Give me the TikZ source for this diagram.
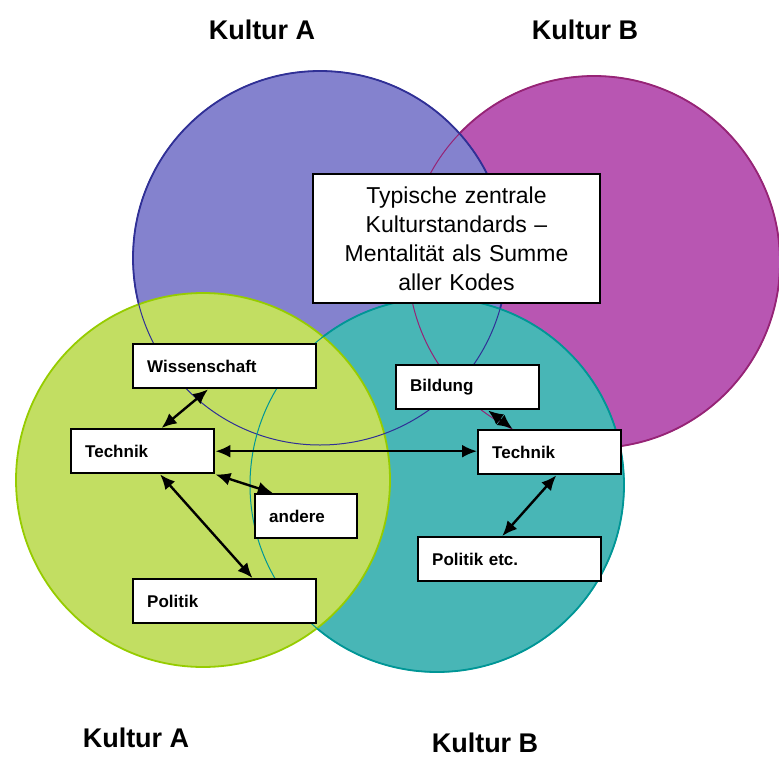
\documentclass[tikz,border=0pt]{standalone}
\usepackage{fontspec}
\setmainfont{Liberation Sans}
\usetikzlibrary{arrows.meta,calc}
\definecolor{kultAfill}{RGB}{132,130,206}
\definecolor{kultAline}{RGB}{48,48,150}
\definecolor{kultBfill}{RGB}{184,86,178}
\definecolor{kultBline}{RGB}{150,36,118}
\definecolor{subAfill}{RGB}{194,222,98}
\definecolor{subAline}{RGB}{150,204,0}
\definecolor{subBfill}{RGB}{72,182,182}
\definecolor{subBline}{RGB}{0,150,150}
\begin{document}
\begin{tikzpicture}
[x=1pt, y=-1pt, line width=1.8pt,
box/.style={rectangle, draw=black, fill=white, line width=2.4pt, inner xsep=14pt, inner ysep=0pt, minimum height=44pt, text width=#1, align=left, anchor=north west, font=\fontsize{17}{20}\selectfont\bfseries},
centerbox/.style={rectangle, draw=black, fill=white, line width=2.4pt, minimum width=287pt, minimum height=129pt, text width=270pt, align=center, font=\fontsize{23}{29}\selectfont},
link/.style={{Latex[length=15pt,width=13pt]}-{Latex[length=15pt,width=13pt]}, line width=2.4pt},
title/.style={font=\fontsize{27}{30}\selectfont\bfseries},
rim/.style={line width=1pt}
]

\useasboundingbox (0,0) rectangle (779,761);

\filldraw[fill=kultBfill, draw=kultBline] (594,262) circle[radius=186pt];
\filldraw[fill=kultAfill, draw=kultAline] (320,258) circle[radius=187pt];
\filldraw[fill=subBfill, draw=subBline] (437,485) circle[radius=187pt];
\filldraw[fill=subAfill, draw=subAline] (203,480) circle[radius=187pt];

\draw[rim, draw=kultBline] (594,262) circle[radius=186pt];
\draw[rim, draw=kultAline] (320,258) circle[radius=187pt];
\draw[rim, draw=subBline] (437,485) circle[radius=187pt];

\node[title] (kultAtop) at (262,30) {Kultur A};
\node[title] (kultBtop) at (585,30) {Kultur B};
\node[title] (kultAbot) at (136,738) {Kultur A};
\node[title] (kultBbot) at (485,743) {Kultur B};

\node[centerbox] (standards) at (456.5,238.5) {Typische zentrale\\Kulturstandards --\\Mentalität als Summe\\aller Kodes};

\node[box=155pt] (wissA) at (132,343) {Wissenschaft};
\node[box=115pt] (techA) at (70,428) {Technik};
\node[box=74pt] (andereA) at (254,493) {andere};
\node[box=155pt] (politikA) at (132,578) {Politik};

\node[box=115pt] (bildungB) at (395,364) {Bildung};
\node[box=115pt] (techB) at (477,429) {Technik};
\node[box=155pt] (politikB) at (417,536) {Politik etc.};

\draw[link] ($(wissA.south west)!0.41!(wissA.south east)$) -- ($(techA.north west)!0.63!(techA.north east)$);
\draw[link] (techA.east) -- (techA.east -| techB.west);
\draw[link] (techA.south east) -- ($(andereA.north west)!0.18!(andereA.north east)$);
\draw[link] ($(techA.south west)!0.62!(techA.south east)$) -- ($(politikA.north west)!0.65!(politikA.north east)$);
\draw[link] ($(bildungB.south west)!0.64!(bildungB.south east)$) -- ($(techB.north west)!0.245!(techB.north east)$);
\draw[link] ($(techB.south west)!0.545!(techB.south east)$) -- ($(politikB.north west)!0.46!(politikB.north east)$);

\end{tikzpicture}
\end{document}
